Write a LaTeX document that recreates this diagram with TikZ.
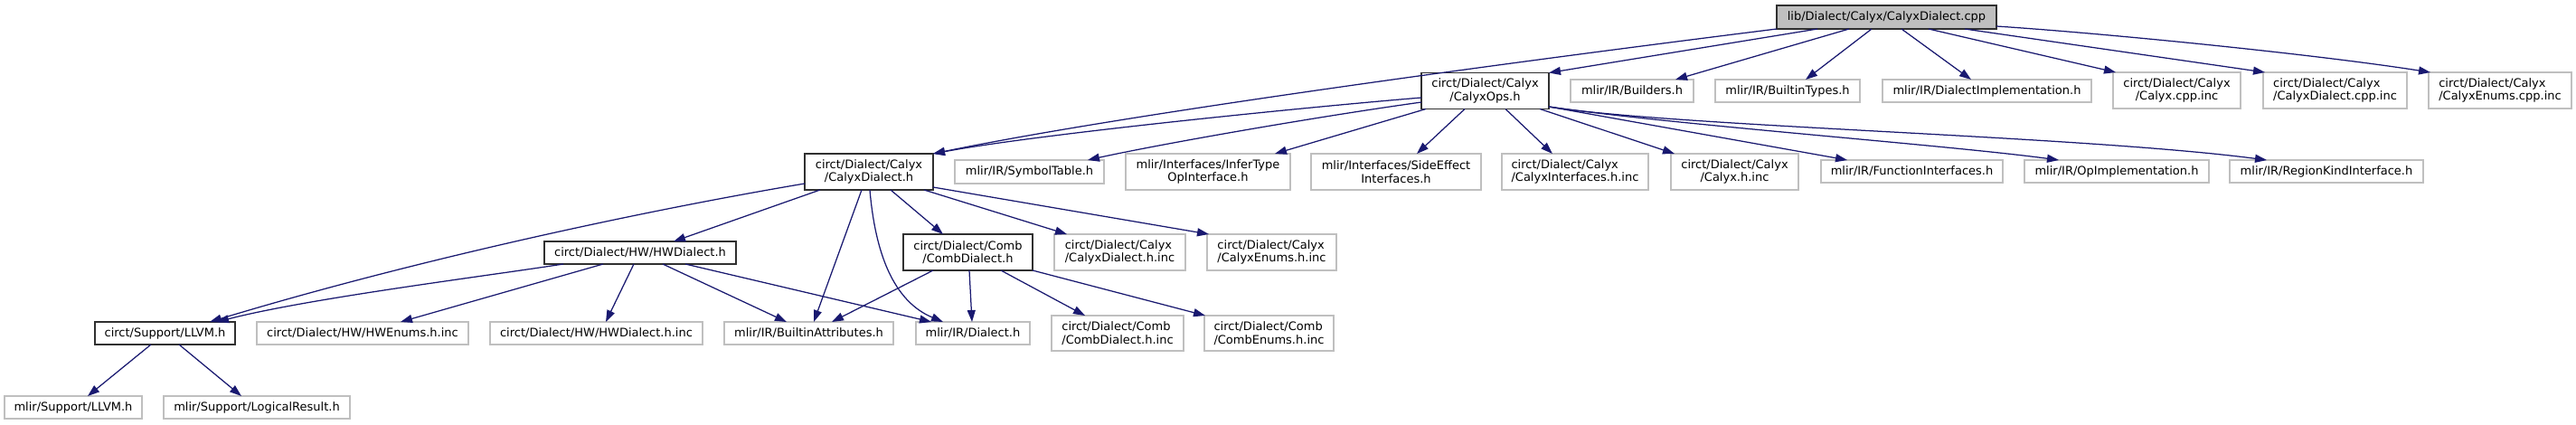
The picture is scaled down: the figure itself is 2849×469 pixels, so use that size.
\documentclass[tikz,border=0pt]{standalone}
\usepackage{fontspec}
\setmainfont{DejaVu Sans}
\usetikzlibrary{arrows.meta}
\definecolor{edgecol}{HTML}{191970}
\definecolor{greyline}{HTML}{BFBFBF}
\definecolor{docline}{HTML}{303030}
\newcommand{\fsz}{\fontsize{13}{14.5}\selectfont}
\begin{document}
\begin{tikzpicture}[x=1pt,y=-1pt,
  nodebase/.style={rectangle, inner sep=0pt, outer sep=0pt, font=\fsz, line width=1.3pt, fill=white},
  doc/.style={nodebase, draw=docline},
  ext/.style={nodebase, draw=greyline},
  rootbox/.style={nodebase, draw=docline, fill=greyline},
  conn/.style={draw=edgecol, line width=1.25pt, -{Triangle[length=13pt,width=9pt]}},
  one/.style={minimum height=25pt},
  two/.style={minimum height=40pt},
  mw/.style={minimum width=#1pt}
]
\fill[white] (0,0) rectangle (2849,469);
\useasboundingbox (0,0) rectangle (2849,469);

% row 0
\node[rootbox, mw=243, minimum height=26pt] (root) at (2086.5,19) {lib/Dialect/Calyx/CalyxDialect.cpp};

% row 1
\node[doc, two, mw=141, align=center] (ops) at (1642.5,100.5) {circt/Dialect/Calyx\\/CalyxOps.h};
\node[ext, one, mw=136] (builders) at (1805,100.5) {mlir/IR/Builders.h};
\node[ext, one, mw=160] (btypes) at (1977,100.5) {mlir/IR/BuiltinTypes.h};
\node[ext, one, mw=231] (dimpl) at (2197.5,100.5) {mlir/IR/DialectImplementation.h};
\node[ext, two, mw=141, align=center] (calyxcpp) at (2407.5,100) {circt/Dialect/Calyx\\/Calyx.cpp.inc};
\node[ext, two, mw=159, align=left] (cdcpp) at (2582.5,100) {circt/Dialect/Calyx\\/CalyxDialect.cpp.inc};
\node[ext, two, mw=158, align=left] (cecpp) at (2765,100) {circt/Dialect/Calyx\\/CalyxEnums.cpp.inc};

% row 2
\node[doc, two, mw=142, align=center] (cdh) at (961,190) {circt/Dialect/Calyx\\/CalyxDialect.h};
\node[ext, minimum height=26pt, mw=165] (symtab) at (1138.5,190) {mlir/IR/SymbolTable.h};
\node[ext, two, mw=182, align=center] (infer) at (1336,190) {mlir/Interfaces/InferType\\OpInterface.h};
\node[ext, two, mw=188, align=center] (side) at (1544,190) {mlir/Interfaces/SideEffect\\Interfaces.h};
\node[ext, two, mw=162, align=left] (cif) at (1742,190) {circt/Dialect/Calyx\\/CalyxInterfaces.h.inc};
\node[ext, two, mw=141, align=center] (calyxhinc) at (1918.5,190) {circt/Dialect/Calyx\\/Calyx.h.inc};
\node[ext, one, mw=201] (funcif) at (2114.5,189.5) {mlir/IR/FunctionInterfaces.h};
\node[ext, one, mw=204] (opimpl) at (2341,189.5) {mlir/IR/OpImplementation.h};
\node[ext, one, mw=214] (region) at (2573,189.5) {mlir/IR/RegionKindInterface.h};

% row 3
\node[doc, one, mw=212] (hwd) at (708,279.5) {circt/Dialect/HW/HWDialect.h};
\node[doc, two, mw=143, align=center] (comb) at (1070.5,279) {circt/Dialect/Comb\\/CombDialect.h};
\node[ext, two, mw=145, align=left] (cdhinc) at (1238.5,279) {circt/Dialect/Calyx\\/CalyxDialect.h.inc};
\node[ext, two, mw=143, align=left] (cehinc) at (1406.5,279) {circt/Dialect/Calyx\\/CalyxEnums.h.inc};

% row 4
\node[doc, one, mw=155] (llvm) at (182.5,368.5) {circt/Support/LLVM.h};
\node[ext, one, mw=234] (hwenums) at (401,368.5) {circt/Dialect/HW/HWEnums.h.inc};
\node[ext, one, mw=235] (hwdinc) at (659.5,368.5) {circt/Dialect/HW/HWDialect.h.inc};
\node[ext, one, mw=187] (battr) at (894.5,368.5) {mlir/IR/BuiltinAttributes.h};
\node[ext, one, mw=126] (dialect) at (1076,368.5) {mlir/IR/Dialect.h};
\node[ext, minimum height=39pt, mw=146, align=left] (combhinc) at (1236,368.5) {circt/Dialect/Comb\\/CombDialect.h.inc};
\node[ext, minimum height=39pt, mw=143, align=left] (combenums) at (1403.5,368.5) {circt/Dialect/Comb\\/CombEnums.h.inc};

% row 5
\node[ext, one, mw=152] (mllvm) at (81,450.5) {mlir/Support/LLVM.h};
\node[ext, one, mw=206] (logres) at (284,450.5) {mlir/Support/LogicalResult.h};

% edges from root
\draw[conn] (root.south west) .. controls (1700,65) and (1250,125) .. (cdh.north east);
\draw[conn] ([xshift=-76.5pt]root.south) -- (ops.north east);
\draw[conn] ([xshift=-41.5pt]root.south) -- ([xshift=48pt]builders.north);
\draw[conn] ([xshift=-16.5pt]root.south) -- ([xshift=20pt]btypes.north);
\draw[conn] ([xshift=16.5pt]root.south) -- ([xshift=-17.5pt]dimpl.north);
\draw[conn] ([xshift=46.5pt]root.south) -- ([xshift=3pt]calyxcpp.north west);
\draw[conn] ([xshift=86.5pt]root.south) -- ([xshift=2pt]cdcpp.north west);
\draw[conn] ([yshift=-10pt]root.east) .. controls (2330,37) and (2560,60) .. ([xshift=2pt]cecpp.north west);

% edges from CalyxOps.h
\draw[conn] ([yshift=-7.5pt]ops.west) .. controls (1450,118) and (1150,148) .. (cdh.north east);
\draw[conn] ([yshift=-12.5pt]ops.west) .. controls (1450,130) and (1280,160) .. ([xshift=64.5pt]symtab.north);
\draw[conn] ([xshift=-65.5pt]ops.south) -- ([xshift=74pt]infer.north);
\draw[conn] ([xshift=-22.5pt]ops.south) -- ([xshift=23pt]side.north);
\draw[conn] ([xshift=22.5pt]ops.south) -- ([xshift=-25pt]cif.north);
\draw[conn] ([xshift=60.5pt]ops.south) -- ([xshift=-66.5pt]calyxhinc.north);
\draw[conn] ([yshift=-17.5pt]ops.east) -- ([xshift=-71.5pt]funcif.north);
\draw[conn] ([yshift=-17.5pt]ops.east) .. controls (1850,138) and (2150,160) .. ([xshift=-64pt]opimpl.north);
\draw[conn] ([yshift=-17.5pt]ops.east) .. controls (1850,140) and (2300,150) .. ([xshift=-66pt]region.north);

% edges from CalyxDialect.h
\draw[conn] ([yshift=-13pt]cdh.west) .. controls (700,235) and (450,290) .. ([xshift=49.5pt]llvm.north);
\draw[conn] ([xshift=-54pt]cdh.south) -- ([xshift=37pt]hwd.north);
\draw[conn] ([xshift=-8pt]cdh.south) -- ([xshift=5.5pt]battr.north);
\draw[conn] ([xshift=1pt]cdh.south) .. controls (968,280) and (988,333) .. ([xshift=-33pt]dialect.north);
\draw[conn] ([xshift=24pt]cdh.south) -- ([xshift=-27.5pt]comb.north);
\draw[conn] ([xshift=61pt]cdh.south) -- ([xshift=-58.5pt]cdhinc.north);
\draw[conn] ([yshift=-17pt]cdh.east) -- ([xshift=2pt]cehinc.north west);

% edges from HWDialect.h
\draw[conn] ([xshift=-85pt]hwd.south) .. controls (540,305) and (340,330) .. ([xshift=57.5pt]llvm.north);
\draw[conn] ([xshift=-41pt]hwd.south) -- ([xshift=42pt]hwenums.north);
\draw[conn] ([xshift=-7pt]hwd.south) -- ([xshift=10.5pt]hwdinc.north);
\draw[conn] ([xshift=25pt]hwd.south) -- ([xshift=-24.5pt]battr.north);
\draw[conn] ([xshift=50pt]hwd.south) -- ([xshift=-46pt]dialect.north);

% edges from CombDialect.h
\draw[conn] ([xshift=-38.5pt]comb.south) -- ([xshift=25.5pt]battr.north);
\draw[conn] ([xshift=1.5pt]comb.south) -- ([xshift=-1pt]dialect.north);
\draw[conn] ([xshift=36.5pt]comb.south) -- ([xshift=-36pt]combhinc.north);
\draw[conn] (comb.south east) -- ([xshift=1pt]combenums.north west);

% edges from circt/Support/LLVM.h
\draw[conn] ([xshift=-15.5pt]llvm.south) -- ([xshift=16pt]mllvm.north);
\draw[conn] ([xshift=15.5pt]llvm.south) -- ([xshift=-17pt]logres.north);
\end{tikzpicture}
\end{document}
